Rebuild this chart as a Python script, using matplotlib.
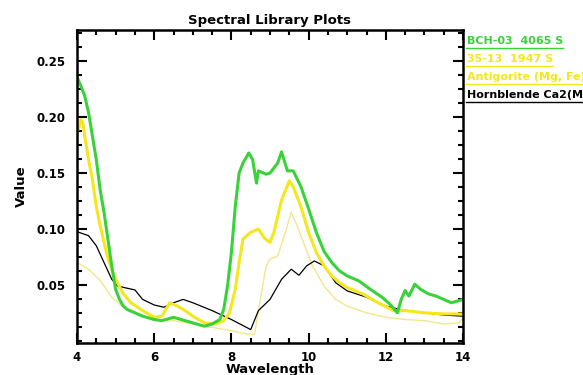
import numpy as np
import matplotlib
matplotlib.use("Agg")
import matplotlib.pyplot as plt
from matplotlib.ticker import MultipleLocator
from matplotlib.lines import Line2D

# --- Data ---
bch_x = [4.0, 4.1, 4.2, 4.3, 4.4, 4.5, 4.6, 4.7, 4.8, 4.9, 5.0, 5.1, 5.2, 5.3, 5.5,
         5.7, 6.0, 6.2, 6.5, 6.8, 7.0, 7.3, 7.5, 7.7, 7.8, 7.9, 8.0, 8.1, 8.2, 8.3,
         8.45, 8.55, 8.65, 8.7, 8.9, 9.0, 9.2, 9.3, 9.45, 9.6, 9.8, 10.0, 10.2, 10.4,
         10.6, 10.8, 11.0, 11.3, 11.6, 11.9, 12.1, 12.3, 12.4, 12.5, 12.6, 12.75, 12.9,
         13.1, 13.3, 13.5, 13.7, 13.9, 14.0]
bch_y = [0.236, 0.228, 0.219, 0.204, 0.183, 0.162, 0.135, 0.115, 0.091, 0.067, 0.046,
         0.037, 0.031, 0.028, 0.025, 0.022, 0.019, 0.018, 0.021, 0.018, 0.016, 0.013,
         0.015, 0.019, 0.028, 0.049, 0.079, 0.120, 0.150, 0.159, 0.168, 0.162, 0.141,
         0.152, 0.149, 0.150, 0.159, 0.169, 0.152, 0.152, 0.138, 0.118, 0.097, 0.080,
         0.070, 0.0625, 0.058, 0.0536, 0.046, 0.039, 0.033, 0.025, 0.037, 0.045, 0.040,
         0.0506, 0.046, 0.042, 0.040, 0.037, 0.034, 0.036, 0.037]

s3513_x = [4.0, 4.05, 4.1, 4.15, 4.2, 4.3, 4.4, 4.5, 4.6, 4.7, 4.8, 4.9, 5.0, 5.2, 5.4,
           5.7, 6.0, 6.2, 6.4, 6.6, 6.8, 7.0, 7.3, 7.6, 7.8, 7.95, 8.1, 8.2, 8.3, 8.5,
           8.7, 8.85, 9.0, 9.1, 9.3, 9.5, 9.6, 9.8, 10.0, 10.2, 10.4, 10.6, 10.8, 11.0,
           11.4, 11.8, 12.2, 12.5, 13.0, 13.5, 14.0]
s3513_y = [0.1875, 0.190, 0.198, 0.195, 0.183, 0.162, 0.144, 0.120, 0.103, 0.088, 0.074,
           0.064, 0.055, 0.042, 0.034, 0.027, 0.021, 0.022, 0.034, 0.031, 0.027, 0.022,
           0.016, 0.015, 0.018, 0.025, 0.046, 0.070, 0.091, 0.097, 0.100, 0.092, 0.088,
           0.097, 0.126, 0.143, 0.138, 0.120, 0.097, 0.079, 0.067, 0.058, 0.052, 0.0476,
           0.042, 0.034, 0.027, 0.027, 0.025, 0.024, 0.024]

antig_x = [4.0, 4.3, 4.6, 4.9, 5.2, 5.6, 6.0, 6.5, 7.0, 7.5, 8.0, 8.4, 8.6, 8.75, 8.9,
           9.0, 9.2, 9.4, 9.55, 9.7, 9.9, 10.1, 10.4, 10.7, 11.0, 11.5, 12.0, 12.5,
           13.0, 13.5, 13.9, 14.0]
antig_y = [0.070, 0.064, 0.054, 0.039, 0.030, 0.024, 0.019, 0.018, 0.015, 0.012, 0.009,
           0.006, 0.006, 0.037, 0.067, 0.073, 0.076, 0.097, 0.115, 0.103, 0.085, 0.067,
           0.049, 0.037, 0.031, 0.025, 0.021, 0.019, 0.018, 0.015, 0.016, 0.021]

hbl_x = [4.0, 4.3, 4.5, 4.7, 4.9, 5.05, 5.3, 5.5, 5.7, 6.0, 6.25, 6.5, 6.75, 7.0, 7.5,
         8.0, 8.5, 8.7, 9.0, 9.3, 9.55, 9.75, 9.95, 10.15, 10.4, 10.7, 11.0, 11.5,
         12.0, 12.5, 13.0, 13.5, 14.0]
hbl_y = [0.0976, 0.094, 0.085, 0.070, 0.055, 0.049, 0.047, 0.0455, 0.037, 0.032, 0.030,
         0.034, 0.037, 0.034, 0.027, 0.019, 0.010, 0.027, 0.037, 0.055, 0.064, 0.0586,
         0.067, 0.0714, 0.067, 0.052, 0.0446, 0.039, 0.031, 0.027, 0.025, 0.023, 0.022]

legend_labels = ["BCH-03  4065 S", "35-13  1947 S",
                 "Antigorite (Mg, Fe)3Si2O5(OH)4",
                 "Hornblende Ca2(Mg,Fe)4Al(Si7Al)O22(OH)2"]

GREEN = "#3ad23a"
YELLOW = "#f5e61e"
PALE = "#efe88c"

plt.rcParams["font.family"] = ["DejaVu Sans"]
plt.rcParams["font.weight"] = "bold"

W, H = 583, 375
fig = plt.figure(figsize=(W / 100, H / 100), dpi=100)
ax = fig.add_axes([77 / W, 1 - 343 / H, (463 - 77) / W, (343 - 30) / H])

ax.plot(antig_x, antig_y, color=PALE, lw=1.0)
ax.plot(hbl_x, hbl_y, color="black", lw=0.9)
ax.plot(s3513_x, s3513_y, color=YELLOW, lw=2.2)
ax.plot(bch_x, bch_y, color=GREEN, lw=2.2)

ax.set_xlim(4, 14)
ax.set_ylim(-0.002, 0.278)
ax.set_xticks([4, 6, 8, 10, 12, 14])
ax.set_yticks([0.05, 0.10, 0.15, 0.20, 0.25])
ax.set_yticklabels(["0.05", "0.10", "0.15", "0.20", "0.25"])
ax.xaxis.set_minor_locator(MultipleLocator(0.5))
ax.yaxis.set_minor_locator(MultipleLocator(0.0125))
ax.tick_params(which="both", direction="in", top=True, right=True, width=1.5,
               labelsize=8.5)
ax.tick_params(which="major", length=7)
ax.tick_params(which="minor", length=3.5)
ax.tick_params(axis="x", pad=6)
ax.tick_params(axis="y", pad=8)
for lab in ax.get_xticklabels() + ax.get_yticklabels():
    lab.set_fontweight("bold")
for sp in ax.spines.values():
    sp.set_linewidth(1.8)

ax.set_title("Spectral Library Plots", fontsize=9.5, fontweight="bold", pad=4)
ax.set_xlabel("Wavelength", fontsize=9.5, fontweight="bold", labelpad=-1)
ax.set_ylabel("Value", fontsize=9.5, fontweight="bold", labelpad=6)

# legend entries as underlined text at the right
colors = [GREEN, YELLOW, YELLOW, "black"]
ys = [46, 64, 82, 100]
fig.canvas.draw()
renderer = fig.canvas.get_renderer()
for lab, c, yy in zip(legend_labels, colors, ys):
    t = fig.text(467 / W, 1 - yy / H, lab, color=c, fontsize=8, fontweight="bold",
                 ha="left", va="bottom")
    bb = t.get_window_extent(renderer)
    x1 = min(bb.x1 / W, 1.0)
    fig.add_artist(Line2D([466 / W, x1], [1 - (yy + 1.5) / H] * 2,
                          color=c, lw=1.0, transform=fig.transFigure))

fig.savefig("out.png", dpi=100)
